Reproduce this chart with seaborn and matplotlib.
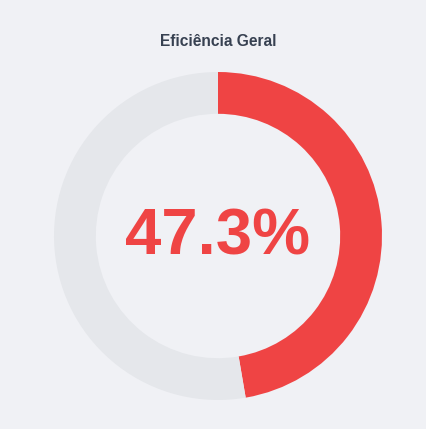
import matplotlib
matplotlib.use("Agg")
import matplotlib.pyplot as plt
import seaborn as sns

# gauge data
title = "Eficiência Geral"
labels = ["Eficiência", "Restante"]
values = [47.3, 52.7]
colors = ["#EF4444", "#E5E7EB"]
bg = "#F0F1F5"

sns.set_theme(style="white")
plt.rcParams["font.family"] = ["Liberation Sans", "DejaVu Sans"]

W, H = 427, 429
fig = plt.figure(figsize=(W / 100, H / 100), dpi=100)
fig.patch.set_facecolor(bg)
ax = fig.add_axes([0, 0, 1, 1])
ax.set_facecolor(bg)

cx, cy, r = 218, 429 - 236, 164
ax.pie(values, colors=colors, startangle=90, counterclock=False, radius=1,
       wedgeprops=dict(width=0.255, linewidth=0))
ax.set_xlim(-cx / r, (W - cx) / r)
ax.set_ylim(-cy / r, (H - cy) / r)
ax.set_aspect("equal")
ax.axis("off")

ax.text(0, -0.01, f"{values[0]}%", ha="center", va="center", fontsize=47,
        fontweight="bold", color=colors[0])
fig.text(218 / W, 1 - 42 / H, title, ha="center", va="center", fontsize=11.2,
         fontweight="bold", color="#374151")

fig.savefig("out.png", dpi=100, facecolor=bg)
